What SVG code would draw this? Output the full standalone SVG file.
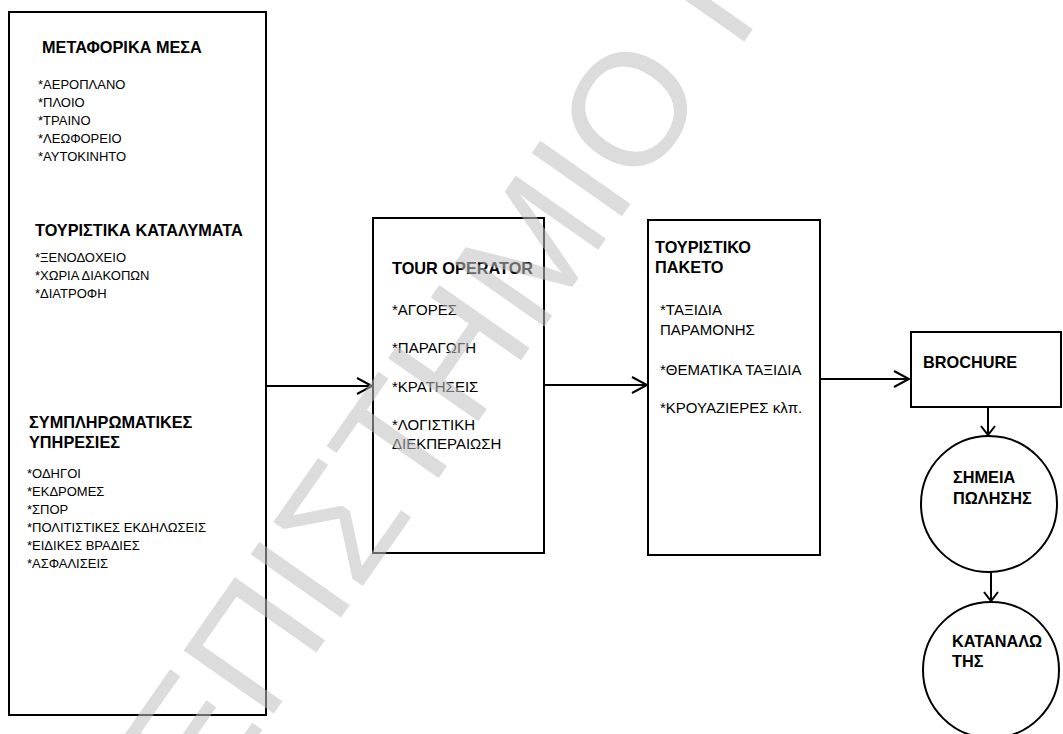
<svg xmlns="http://www.w3.org/2000/svg" width="1063" height="734" viewBox="0 0 1063 734">
<style>
  .box{fill:#fff;stroke:#000;stroke-width:2}
  .t{font-family:"Liberation Sans",Arial,sans-serif;fill:#000}
  .h{font-weight:bold;font-size:16.3px}
  .s{font-size:13px}
  .m{font-size:15px}
  .c{fill:none;stroke:#000;stroke-width:2}
  .wm{font-family:"Liberation Sans",Arial,sans-serif;font-size:160px;fill:#c0c0c0;fill-opacity:0.55}
</style>
<defs>
  <marker id="ah" markerUnits="userSpaceOnUse" markerWidth="20" markerHeight="20" refX="15" refY="8" orient="auto" overflow="visible">
    <path d="M0,0 L15,8 L0,16" fill="none" stroke="#000" stroke-width="2"/>
  </marker>
  <marker id="av" markerUnits="userSpaceOnUse" markerWidth="20" markerHeight="20" refX="9" refY="7" orient="auto" overflow="visible">
    <path d="M0,0 L9,7 L0,14" fill="none" stroke="#000" stroke-width="2"/>
  </marker>
</defs>
<rect width="1063" height="734" fill="#fff"/>

<g id="resources">
  <rect class="box" x="9" y="12" width="257" height="703"/>
  <text class="t h" x="42" y="53">ΜΕΤΑΦΟΡΙΚΑ ΜΕΣΑ</text>
  <text class="t s" x="38" y="89">*ΑΕΡΟΠΛΑΝΟ</text>
  <text class="t s" x="38" y="107">*ΠΛΟΙΟ</text>
  <text class="t s" x="38" y="125">*ΤΡΑΙΝΟ</text>
  <text class="t s" x="38" y="143">*ΛΕΩΦΟΡΕΙΟ</text>
  <text class="t s" x="38" y="161">*ΑΥΤΟΚΙΝΗΤΟ</text>
  <text class="t h" x="35" y="236">ΤΟΥΡΙΣΤΙΚΑ ΚΑΤΑΛΥΜΑΤΑ</text>
  <text class="t s" x="35" y="262">*ΞΕΝΟΔΟΧΕΙΟ</text>
  <text class="t s" x="35" y="280">*ΧΩΡΙΑ ΔΙΑΚΟΠΩΝ</text>
  <text class="t s" x="35" y="298">*ΔΙΑΤΡΟΦΗ</text>
  <text class="t h" x="29" y="428">ΣΥΜΠΛΗΡΩΜΑΤΙΚΕΣ</text>
  <text class="t h" x="29" y="448">ΥΠΗΡΕΣΙΕΣ</text>
  <text class="t s" x="27" y="478">*ΟΔΗΓΟΙ</text>
  <text class="t s" x="27" y="496">*ΕΚΔΡΟΜΕΣ</text>
  <text class="t s" x="27" y="514">*ΣΠΟΡ</text>
  <text class="t s" x="27" y="532">*ΠΟΛΙΤΙΣΤΙΚΕΣ ΕΚΔΗΛΩΣΕΙΣ</text>
  <text class="t s" x="27" y="550">*ΕΙΔΙΚΕΣ ΒΡΑΔΙΕΣ</text>
  <text class="t s" x="27" y="568">*ΑΣΦΑΛΙΣΕΙΣ</text>
</g>

<g id="tour-operator">
  <rect class="box" x="373" y="218" width="171" height="335"/>
  <text class="t h" x="392" y="274">TOUR OPERATOR</text>
  <text class="t m" x="392" y="315">*ΑΓΟΡΕΣ</text>
  <text class="t m" x="392" y="353">*ΠΑΡΑΓΩΓΗ</text>
  <text class="t m" x="392" y="392">*ΚΡΑΤΗΣΕΙΣ</text>
  <text class="t m" x="392" y="430">*ΛΟΓΙΣΤΙΚΗ</text>
  <text class="t m" x="392" y="449">ΔΙΕΚΠΕΡΑΙΩΣΗ</text>
</g>

<g id="package">
  <rect class="box" x="648" y="220" width="172" height="335"/>
  <text class="t h" x="655" y="253">ΤΟΥΡΙΣΤΙΚΟ</text>
  <text class="t h" x="655" y="273">ΠΑΚΕΤΟ</text>
  <text class="t m" x="660" y="315">*ΤΑΞΙΔΙΑ</text>
  <text class="t m" x="660" y="335">ΠΑΡΑΜΟΝΗΣ</text>
  <text class="t m" x="660" y="375">*ΘΕΜΑΤΙΚΑ ΤΑΞΙΔΙΑ</text>
  <text class="t m" x="660" y="413">*ΚΡΟΥΑΖΙΕΡΕΣ κλπ.</text>
</g>

<g id="brochure">
  <rect class="box" x="911" y="332" width="150" height="75"/>
  <text class="t h" x="923" y="368">BROCHURE</text>
</g>

<g id="points-of-sale">
  <circle class="box" cx="989" cy="504" r="68"/>
  <text class="t h" x="953" y="483">ΣΗΜΕΙΑ</text>
  <text class="t h" x="953" y="504">ΠΩΛΗΣΗΣ</text>
</g>

<g id="consumer">
  <circle class="box" cx="991" cy="670" r="68"/>
  <text class="t h" x="952" y="647">ΚΑΤΑΝΑΛΩ</text>
  <text class="t h" x="952" y="667">ΤΗΣ</text>
</g>

<g id="connectors">
  <line class="c" x1="266" y1="386" x2="372" y2="386" marker-end="url(#ah)"/>
  <line class="c" x1="544" y1="385" x2="647" y2="385" marker-end="url(#ah)"/>
  <line class="c" x1="820" y1="379" x2="909" y2="379" marker-end="url(#ah)"/>
  <line class="c" x1="988" y1="407" x2="988" y2="435" marker-end="url(#av)"/>
  <line class="c" x1="991" y1="572" x2="991" y2="601" marker-end="url(#av)"/>
</g>

<g id="watermark">
  <text class="wm" transform="translate(628,108) rotate(-55)" x="-819" y="57">ΕΠΙΣΤΗΜΙΟ Ι</text>
</g>
</svg>
